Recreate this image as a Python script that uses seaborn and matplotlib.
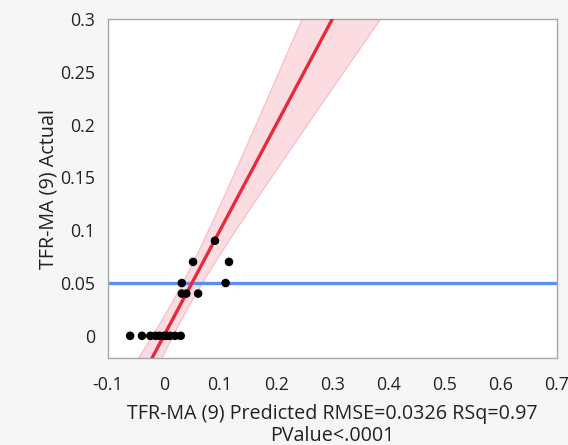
import numpy as np
import pandas as pd
import matplotlib
matplotlib.use("Agg")
import matplotlib.pyplot as plt
import seaborn as sns

# Actual by predicted values for TFR-MA (9)
predicted = [-0.060, -0.039, -0.024, -0.015, -0.008, 0.000, 0.005, 0.011, 0.020,
             0.030, 0.032, 0.032, 0.040, 0.061, 0.052, 0.091, 0.110, 0.116]
actual = [0.00, 0.00, 0.00, 0.00, 0.00, 0.00, 0.00, 0.00, 0.00,
          0.00, 0.05, 0.04, 0.04, 0.04, 0.07, 0.09, 0.05, 0.07]
mean_actual = 0.05

# Fit summary used for the confidence curve
rmse = 0.0326
t_crit = 2.12
n_obs = 18
x_center = 0.03
sxx = 0.085

x_ticks = [-0.1, 0, 0.1, 0.2, 0.3, 0.4, 0.5, 0.6, 0.7]
x_tick_labels = ["-0.1", "0", "0.1", "0.2", "0.3", "0.4", "0.5", "0.6", "0.7"]
y_ticks = [0, 0.05, 0.1, 0.15, 0.2, 0.25, 0.3]
y_tick_labels = ["0", "0.05", "0.1", "0.15", "0.2", "0.25", "0.3"]

sns.set_theme(style="white")
plt.rcParams["font.family"] = ["Open Sans", "DejaVu Sans"]

fig = plt.figure(figsize=(5.68, 4.45), dpi=100)
fig.patch.set_facecolor("#f6f6f6")
ax = fig.add_axes([0.1896, 0.1955, 0.9806 - 0.1896, 0.9573 - 0.1955])
ax.set_facecolor("white")

xmin, xmax = -0.1, 0.7
ymin, ymax = -0.021, 0.3

# Fit line (actual = predicted) with its confidence band
xs = np.linspace(-0.1, 0.45, 400)
half = t_crit * rmse * np.sqrt(1.0 / n_obs + (xs - x_center) ** 2 / sxx)
ax.fill_between(xs, xs - half, xs + half, color="#fbd7dc", alpha=0.85,
                edgecolor="#f6b0b9", linewidth=0.8, zorder=1)
line_df = pd.DataFrame({"x": xs, "y": xs})
sns.lineplot(data=line_df, x="x", y="y", color="#e8283c", linewidth=2.4,
             ax=ax, zorder=3)

# Mean of the response
ax.axhline(mean_actual, color="#5b8ef0", linewidth=2.4, zorder=2)

pts = pd.DataFrame({"Predicted": predicted, "Actual": actual})
sns.scatterplot(data=pts, x="Predicted", y="Actual", color="black", s=38,
                edgecolor="none", ax=ax, zorder=4)

ax.set_xlim(xmin, xmax)
ax.set_ylim(ymin, ymax)
ax.set_xticks(x_ticks)
ax.set_xticklabels(x_tick_labels)
ax.set_yticks(y_ticks)
ax.set_yticklabels(y_tick_labels)

for side in ["left", "right", "top", "bottom"]:
    ax.spines[side].set_color("#a8a8a8")
    ax.spines[side].set_linewidth(1.0)
ax.tick_params(axis="both", which="both", direction="out", length=6, width=1,
               color="#a8a8a8", labelsize=12.8, labelcolor="#222222", pad=3)
ax.tick_params(axis="x", length=7, pad=6)

ax.set_xlabel("TFR-MA (9) Predicted RMSE=0.0326 RSq=0.97\nPValue<.0001",
              fontsize=14.2, color="#222222", labelpad=7, linespacing=1.15)
ax.set_ylabel("TFR-MA (9) Actual", fontsize=14.2, color="#222222", labelpad=1)

fig.savefig("out.png", dpi=100, facecolor=fig.get_facecolor())
